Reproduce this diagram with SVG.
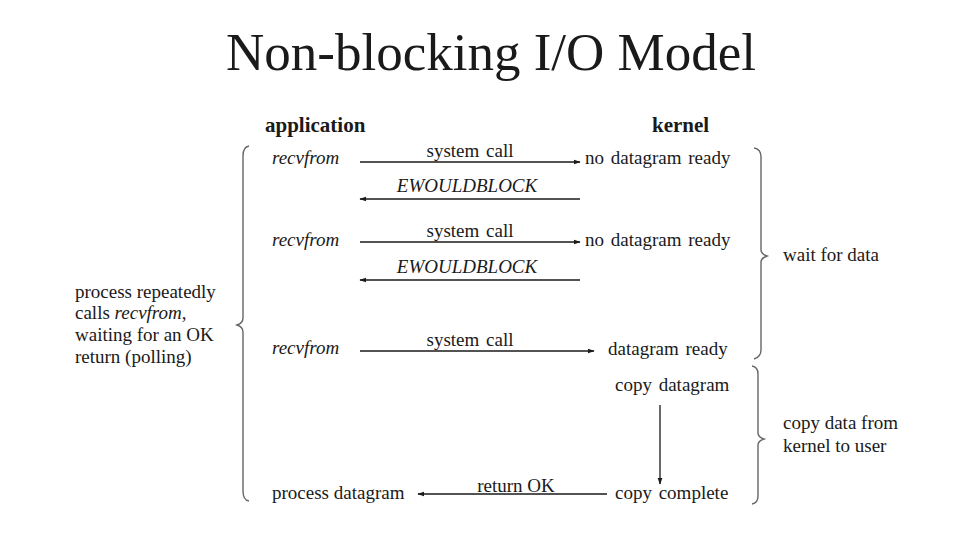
<svg xmlns="http://www.w3.org/2000/svg" width="969" height="552" viewBox="0 0 969 552">
<defs>
<style>
text{font-family:"Liberation Serif","Times New Roman",serif;fill:#1a1a1a;font-size:19px}
.it{font-style:italic}
.b{font-weight:bold;font-size:21px}
.t{font-size:53px}
.ws{word-spacing:2px}
.ln{stroke:#1a1a1a;stroke-width:1.3;fill:none}
.br{stroke:#666;stroke-width:1.4;fill:none}
</style>
<marker id="ah" viewBox="0 0 10 10" refX="9" refY="5" markerWidth="7" markerHeight="7" markerUnits="userSpaceOnUse" orient="auto"><path d="M0 1.5 L10 5 L0 8.5 Z" fill="#1a1a1a"/></marker>
</defs>
<rect width="969" height="552" fill="#fff"/>
<text id="title" class="t" x="491" y="70" text-anchor="middle">Non-blocking I/O Model</text>
<g id="application"><text class="b" x="265" y="132">application</text></g>
<g id="kernel"><text class="b" x="652" y="132">kernel</text></g>
<g id="app1"><text class="it" x="272" y="164">recvfrom</text></g>
<g id="app2"><text class="it" x="272" y="246">recvfrom</text></g>
<g id="app3"><text class="it" x="272" y="354">recvfrom</text></g>
<g id="app4"><text x="272" y="499">process datagram</text></g>
<g id="k1"><text class="ws" x="585" y="164">no datagram ready</text></g>
<g id="k2"><text class="ws" x="585" y="246">no datagram ready</text></g>
<g id="k3"><text class="ws" x="608" y="355">datagram ready</text></g>
<g id="k4"><text class="ws" x="615" y="391">copy datagram</text></g>
<g id="k5"><text class="ws" x="615" y="499">copy complete</text></g>
<g id="connectors">
<line class="ln" x1="360" y1="162" x2="580" y2="162" marker-end="url(#ah)"/>
<line class="ln" x1="580" y1="199" x2="360" y2="199" marker-end="url(#ah)"/>
<line class="ln" x1="360" y1="242" x2="580" y2="242" marker-end="url(#ah)"/>
<line class="ln" x1="580" y1="280" x2="360" y2="280" marker-end="url(#ah)"/>
<line class="ln" x1="360" y1="351" x2="594" y2="351" marker-end="url(#ah)"/>
<line class="ln" x1="660" y1="405" x2="660" y2="484" marker-end="url(#ah)"/>
<line class="ln" x1="607" y1="494" x2="418" y2="494" marker-end="url(#ah)"/>
<text class="ws" x="470" y="157" text-anchor="middle">system call</text>
<text class="it" x="467" y="192" text-anchor="middle">EWOULDBLOCK</text>
<text class="ws" x="470" y="237" text-anchor="middle">system call</text>
<text class="it" x="467" y="273" text-anchor="middle">EWOULDBLOCK</text>
<text class="ws" x="470" y="346" text-anchor="middle">system call</text>
<text x="516" y="492" text-anchor="middle">return OK</text>
</g>
<g id="left-brace">
<path class="br" d="M249 146 Q243 147 243 156 L243 318 Q243 323 237 325 Q243 327 243 332 L243 491 Q243 500 249 501"/>
<text x="75" y="298">process repeatedly</text>
<text x="75" y="319">calls <tspan class="it">recvfrom</tspan>,</text>
<text x="75" y="341">waiting for an OK</text>
<text x="75" y="363">return (polling)</text>
</g>
<g id="wait-brace">
<path class="br" d="M754 148 Q761 149 761 157 L761 250 Q761 254 767 256 Q761 258 761 262 L761 350 Q761 357 754 359"/>
<text x="783" y="261">wait for data</text>
</g>
<g id="copy-brace">
<path class="br" d="M752 366 Q758 367 758 374 L758 433 Q758 437 764 439 Q758 441 758 445 L758 496 Q758 503 752 504"/>
<text x="783" y="429">copy data from</text>
<text x="783" y="452">kernel to user</text>
</g>
</svg>
